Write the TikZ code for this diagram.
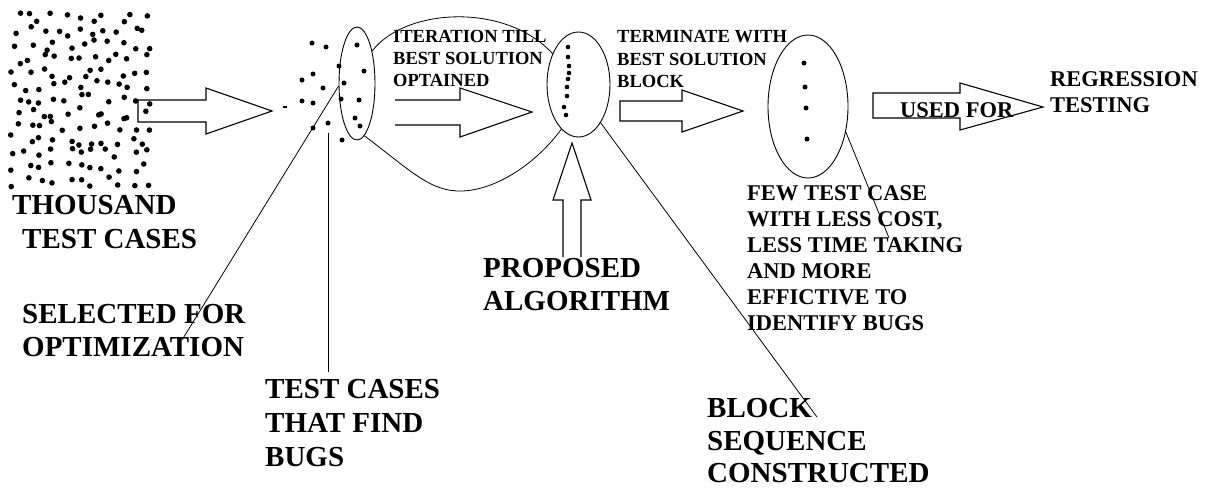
\documentclass[tikz,border=0pt]{standalone}
\usepackage{fontspec}
\setmainfont{Liberation Serif}
\usetikzlibrary{shapes.geometric}
\begin{document}
\begin{tikzpicture}[x=1pt,y=-1pt,
  big/.style={font=\fontsize{29}{33}\selectfont\bfseries, inner sep=0pt, anchor=base west},
  mid/.style={font=\fontsize{22.5}{26}\selectfont\bfseries, inner sep=0pt, anchor=base west},
  sml/.style={font=\fontsize{18.5}{22}\selectfont\bfseries, inner sep=0pt, anchor=base west},
  ell/.style={draw, ellipse, inner sep=0pt, line width=0.9pt},
  blockarrow/.style={draw, line width=1.1pt, line join=miter},
  conn/.style={draw, line width=0.8pt},
  dot/.style={fill=black}]
\useasboundingbox (0,0) rectangle (1207,488);

% thousand test cases dot field (jittered grid)
\pgfmathsetseed{4711}
\foreach \c in {0,...,10}{
  \foreach \r in {0,...,12}{
    \pgfmathsetmacro{\px}{16+\c*12.9+11*rand/2}
    \pgfmathsetmacro{\py}{18+\r*13.6+11*rand/2}
    \fill (\px,\py) circle (2.8);
  }
}

% ellipses
\node[ell, minimum width=36, minimum height=113] (e1) at (357,83.5) {};
\node[ell, minimum width=63, minimum height=105] (e2) at (578.5,84.5) {};
\node[ell, minimum width=80, minimum height=143] (e3) at (808,106.5) {};

% dots around / inside ellipse 1
\foreach \p in {(312,43),(326,47),(357,45),(364,71),(339,66),(313,74),(302,80),(344,83),(323,88),(302,101),(313,103),(341,99),(359,100),(355,118),(360,126),(313,128),(328,123),(342,140)}
  \fill \p circle (2.5);
\fill (283,106) rectangle (287,107.5);
% dots in ellipse 2
\foreach \p in {(568,47),(568,57),(569,66),(569,73),(568,79),(567,87),(567,96),(564,107),(566,115)}
  \fill \p circle (2.3);
% dots in ellipse 3
\foreach \p in {(804,63),(805,87),(806,108),(807,139)}
  \fill \p circle (2.5);

% block arrows
\draw[blockarrow] (138,100) -- (206,100) -- (206,88) -- (272,111) -- (206,134) -- (206,122) -- (138,122) -- cycle;
\draw[blockarrow] (395,100) -- (460,100) -- (460,88) -- (532,112) -- (460,137) -- (460,125) -- (395,125);
\draw[blockarrow] (563,257) -- (563,200) -- (553,200) -- (572,143) -- (591,200) -- (581,200) -- (581,257);
\draw[blockarrow] (620,101) -- (682,101) -- (682,90) -- (743,111) -- (682,132) -- (682,121) -- (620,121) -- cycle;
\draw[blockarrow] (873,93) -- (960,93) -- (960,83) -- (1043,107) -- (960,130) -- (960,118) -- (873,118) -- cycle;

% curves between ellipse 1 and ellipse 2
\draw[conn] (e1.65) .. controls (405,8) and (505,2) .. (e2.130);
\draw[conn] (e1.-82) .. controls (410,170) and (430,192) .. (462,191) .. controls (495,190) and (535,165) .. (e2.-111);

% label connectors
\coordinate (selEnd) at (182,340);
\coordinate (bugTop) at (328,133);
\coordinate (bugEnd) at (328,372);
\coordinate (blkEnd) at (817,417);
\coordinate (fewEnd) at (889,238);
\draw[conn] (e1.west) ++(0,2.5) -- (selEnd);
\draw[conn] (bugTop) -- (bugEnd);
\draw[conn] (e2.-60) -- (blkEnd);
\draw[conn] (e3.-34) -- (fewEnd);

% texts
\node[big] (th1) at (12,214) {THOUSAND};
\node[big] (th2) at (22,248) {TEST CASES};
\node[big] (se1) at (22,323) {SELECTED FOR};
\node[big] (se2) at (22,356) {OPTIMIZATION};
\node[big] (tc1) at (265,398) {TEST CASES};
\node[big] (tc2) at (265,432) {THAT FIND};
\node[big] (tc3) at (265,466) {BUGS};
\node[big] (pa1) at (483,277) {PROPOSED};
\node[big] (pa2) at (483,310) {ALGORITHM};
\node[big] (bs1) at (707,417) {BLOCK};
\node[big] (bs2) at (707,450) {SEQUENCE};
\node[big] (bs3) at (707,482) {CONSTRUCTED};

\node[sml] (it1) at (393,42) {ITERATION TILL};
\node[sml] (it2) at (393,64) {BEST SOLUTION};
\node[sml] (it3) at (393,86) {OPTAINED};
\node[sml] (tw1) at (617,42) {TERMINATE WITH};
\node[sml] (tw2) at (617,65) {BEST SOLUTION};
\node[sml] (tw3) at (617,87) {BLOCK};

\node[mid] (fw1) at (747,200) {FEW TEST CASE};
\node[mid] (fw2) at (747,226) {WITH LESS COST,};
\node[mid] (fw3) at (747,252) {LESS TIME TAKING};
\node[mid] (fw4) at (747,278) {AND MORE};
\node[mid] (fw5) at (747,304) {EFFICTIVE TO};
\node[mid] (fw6) at (747,330) {IDENTIFY BUGS};

\node[mid] (uf) at (900,117) {USED FOR};
\node[mid] (rg1) at (1050,86) {REGRESSION};
\node[mid] (rg2) at (1050,112) {TESTING};
\end{tikzpicture}
\end{document}
